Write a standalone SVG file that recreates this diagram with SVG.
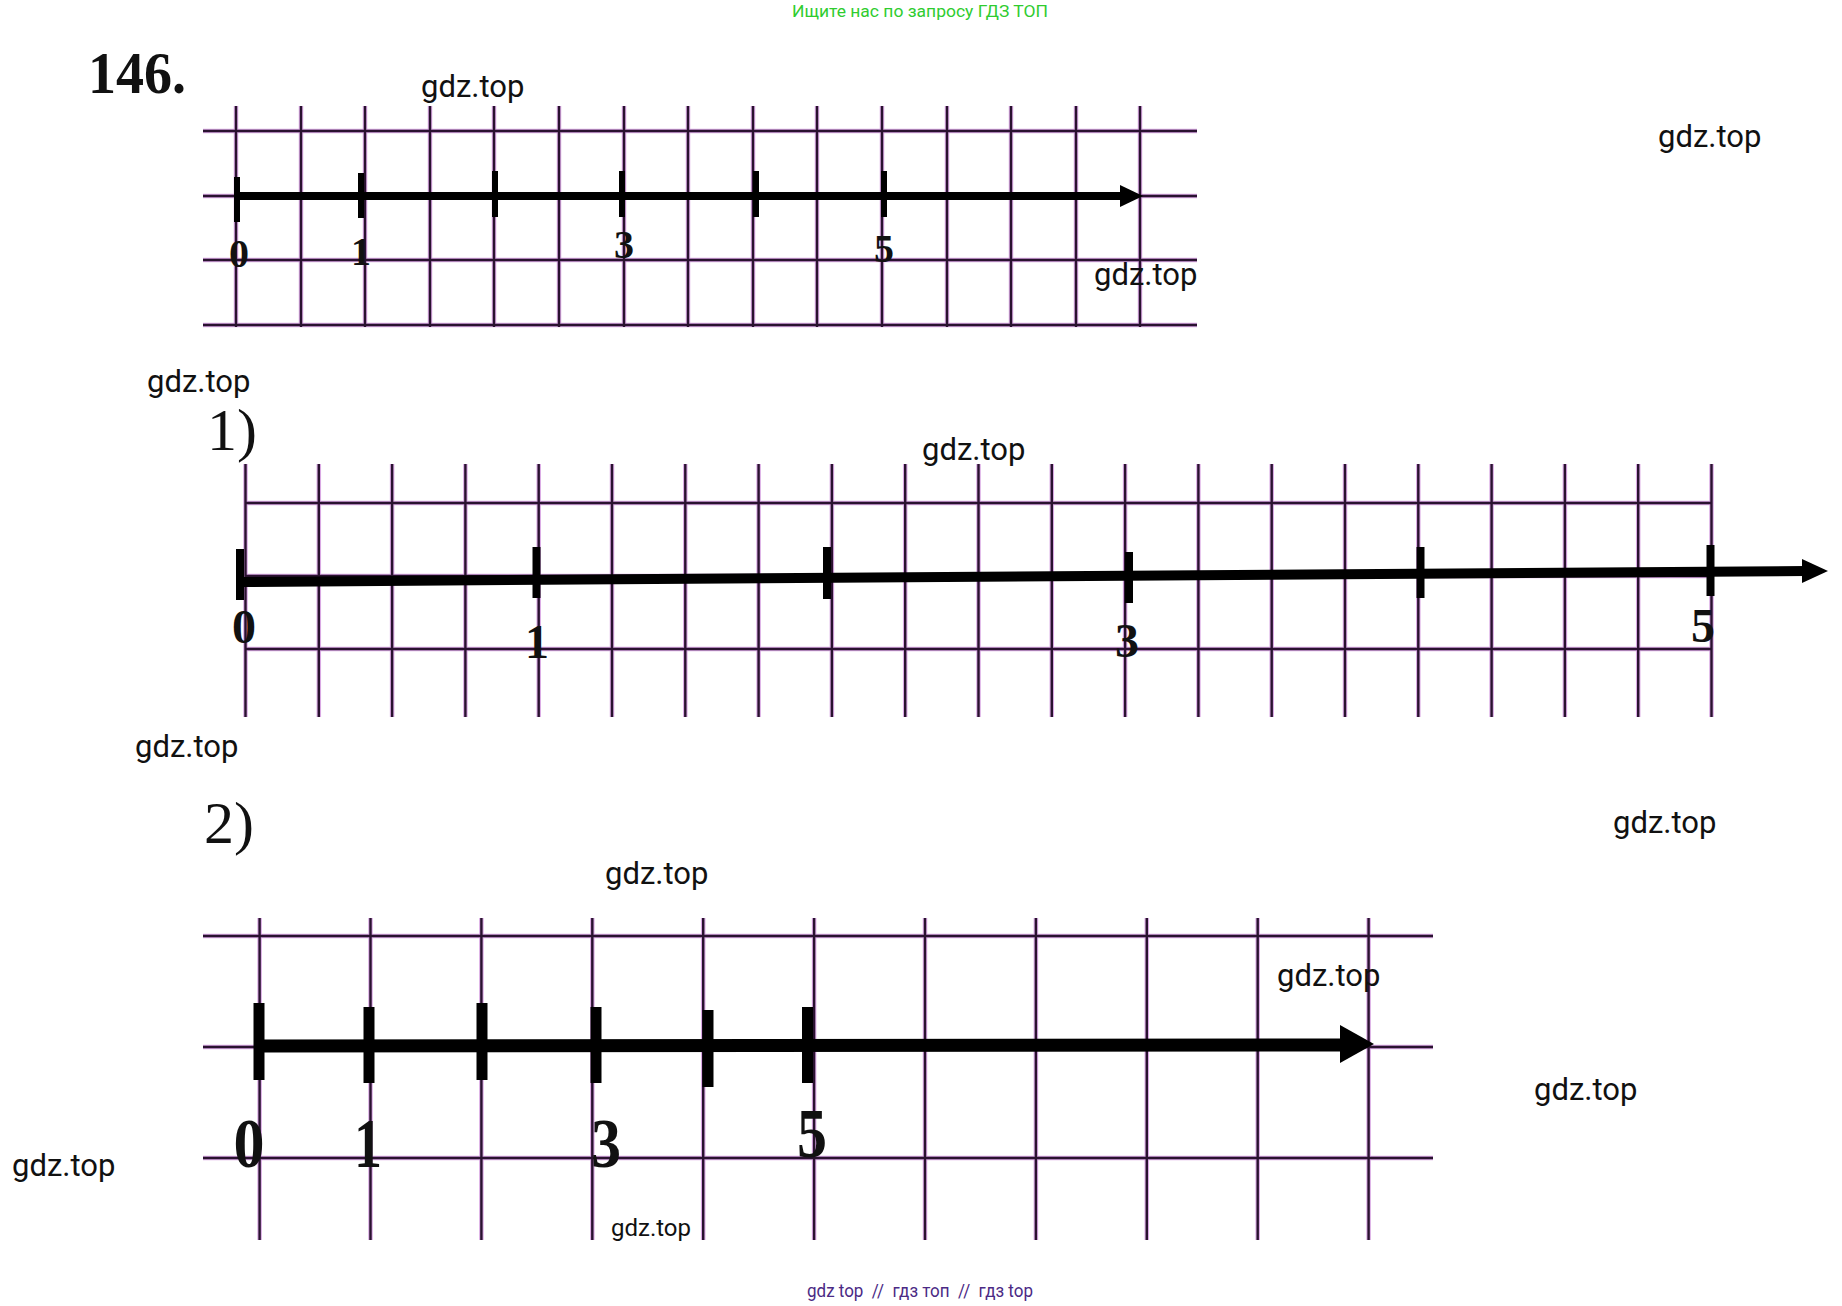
<svg xmlns="http://www.w3.org/2000/svg" xmlns:xlink="http://www.w3.org/1999/xlink" width="1842" height="1306" viewBox="0 0 1842 1306">
<style>
.halo{fill:none;stroke:#c070d0;stroke-width:4.5;stroke-opacity:0.6}
.core{fill:none;stroke:#2a1230;stroke-width:2.4}
.axis{stroke:#000;fill:none}
.tick{stroke:#000}
.wm{font-family:Roboto,"Liberation Sans",sans-serif;font-size:31px;fill:#111}
.wms{font-family:Roboto,"Liberation Sans",sans-serif;font-size:24px;fill:#111}
.num{font-family:"Liberation Serif","Times New Roman",serif;fill:#111}
</style>
<defs>
<path id="g0" d="M236 106V327M301 106V327M365 106V327M430 106V327M494 106V327M559 106V327M624 106V327M688 106V327M753 106V327M817 106V327M882 106V327M947 106V327M1011 106V327M1076 106V327M1140 106V327M203 131H1197M203 196H1197M203 260H1197M203 325H1197"/>
<path id="g1" d="M245.5 464V717M318.8 464V717M392.1 464V717M465.4 464V717M538.7 464V717M612 464V717M685.3 464V717M758.6 464V717M831.9 464V717M905.2 464V717M978.5 464V717M1051.8 464V717M1125.1 464V717M1198.4 464V717M1271.7 464V717M1345 464V717M1418.3 464V717M1491.6 464V717M1564.9 464V717M1638.2 464V717M1711.5 464V717M245.5 503H1711.5M245.5 576H1711.5M245.5 649H1711.5"/>
<path id="g2" d="M259.6 918V1240M370.5 918V1240M481.4 918V1240M592.3 918V1240M703.2 918V1240M814.1 918V1240M925 918V1240M1035.9 918V1240M1146.8 918V1240M1257.7 918V1240M1368.6 918V1240M203 936H1433M203 1047H1433M203 1158H1433"/>
</defs>
<rect width="1842" height="1306" fill="#fff"/>

<g id="header">
<text x="920" y="17" text-anchor="middle" font-family="Roboto,'Liberation Sans',sans-serif" font-size="16" fill="#2fcc2f" textLength="256" lengthAdjust="spacingAndGlyphs">Ищите нас по запросу ГДЗ ТОП</text>
<text x="88" y="93" font-family="'Liberation Serif',serif" font-weight="bold" font-size="60" fill="#111" textLength="98" lengthAdjust="spacingAndGlyphs">146.</text>
</g>

<g id="grid-top"><use xlink:href="#g0" class="halo"/><use xlink:href="#g0" class="core"/></g>
<g id="grid-1"><use xlink:href="#g1" class="halo"/><use xlink:href="#g1" class="core"/></g>
<g id="grid-2"><use xlink:href="#g2" class="halo"/><use xlink:href="#g2" class="core"/></g>

<g id="axis-top">
<line class="axis" x1="237" y1="196" x2="1124" y2="196" stroke-width="8"/>
<polygon points="1120,185 1143,196 1120,207" fill="#000"/>
<g class="tick" stroke-width="6">
<line x1="237" y1="177" x2="237" y2="222"/>
<line x1="361" y1="173" x2="361" y2="218"/>
<line x1="495" y1="171" x2="495" y2="217"/>
<line x1="622" y1="171" x2="622" y2="217"/>
<line x1="756" y1="171" x2="756" y2="217"/>
<line x1="884" y1="171" x2="884" y2="217"/>
</g>
<g class="num" font-size="40" font-weight="bold" text-anchor="middle">
<text x="239" y="267">0</text>
<text x="361" y="265">1</text>
<text x="624" y="258">3</text>
<text x="884" y="262">5</text>
</g>
</g>

<g id="part-1">
<text class="num" x="207" y="450" font-size="60">1)</text>
<line class="axis" x1="240" y1="582" x2="1806" y2="571" stroke-width="10"/>
<polygon points="1802,559 1828,571 1802,583" fill="#000"/>
<g class="tick" stroke-width="8">
<line x1="240" y1="549" x2="240" y2="600"/>
<line x1="536.5" y1="547" x2="536.5" y2="598"/>
<line x1="827" y1="547" x2="827" y2="599"/>
<line x1="1129" y1="552" x2="1129" y2="603"/>
<line x1="1420.5" y1="547" x2="1420.5" y2="598"/>
<line x1="1710.5" y1="545" x2="1710.5" y2="596"/>
</g>
<g class="num" font-size="48" font-weight="bold" text-anchor="middle">
<text x="244" y="643">0</text>
<text x="537" y="658">1</text>
<text x="1127" y="657">3</text>
<text x="1703" y="642">5</text>
</g>
</g>

<g id="part-2">
<text class="num" x="204" y="843" font-size="60">2)</text>
<line class="axis" x1="259" y1="1046" x2="1345" y2="1045" stroke-width="13"/>
<polygon points="1340,1025 1374,1044 1340,1063" fill="#000"/>
<g class="tick" stroke-width="11">
<line x1="259" y1="1003" x2="259" y2="1080"/>
<line x1="369" y1="1007" x2="369" y2="1083"/>
<line x1="482" y1="1003" x2="482" y2="1080"/>
<line x1="596" y1="1007" x2="596" y2="1083"/>
<line x1="708" y1="1010" x2="708" y2="1087"/>
<line x1="807.5" y1="1007" x2="807.5" y2="1083"/>
</g>
<g class="num" font-size="70" font-weight="bold" text-anchor="middle">
<text x="249" y="1167" textLength="31" lengthAdjust="spacingAndGlyphs">0</text>
<text x="368" y="1167" textLength="28" lengthAdjust="spacingAndGlyphs">1</text>
<text x="606" y="1167" textLength="30" lengthAdjust="spacingAndGlyphs">3</text>
<text x="812" y="1157" textLength="30" lengthAdjust="spacingAndGlyphs">5</text>
</g>
</g>

<g id="watermarks">
<text class="wm" x="421" y="97">gdz.top</text>
<text class="wm" x="1658" y="147">gdz.top</text>
<text class="wm" x="1094" y="285">gdz.top</text>
<text class="wm" x="147" y="392">gdz.top</text>
<text class="wm" x="922" y="460">gdz.top</text>
<text class="wm" x="135" y="757">gdz.top</text>
<text class="wm" x="1613" y="833">gdz.top</text>
<text class="wm" x="605" y="884">gdz.top</text>
<text class="wm" x="1277" y="986">gdz.top</text>
<text class="wm" x="1534" y="1100">gdz.top</text>
<text class="wm" x="12" y="1176">gdz.top</text>
<text class="wms" x="611" y="1236">gdz.top</text>
<text x="807" y="1297" font-family="Roboto,'Liberation Sans',sans-serif" font-size="18" fill="#4b2a85" textLength="226" lengthAdjust="spacingAndGlyphs" xml:space="preserve">gdz top  //  гдз топ  //  гдз top</text>
</g>
</svg>
